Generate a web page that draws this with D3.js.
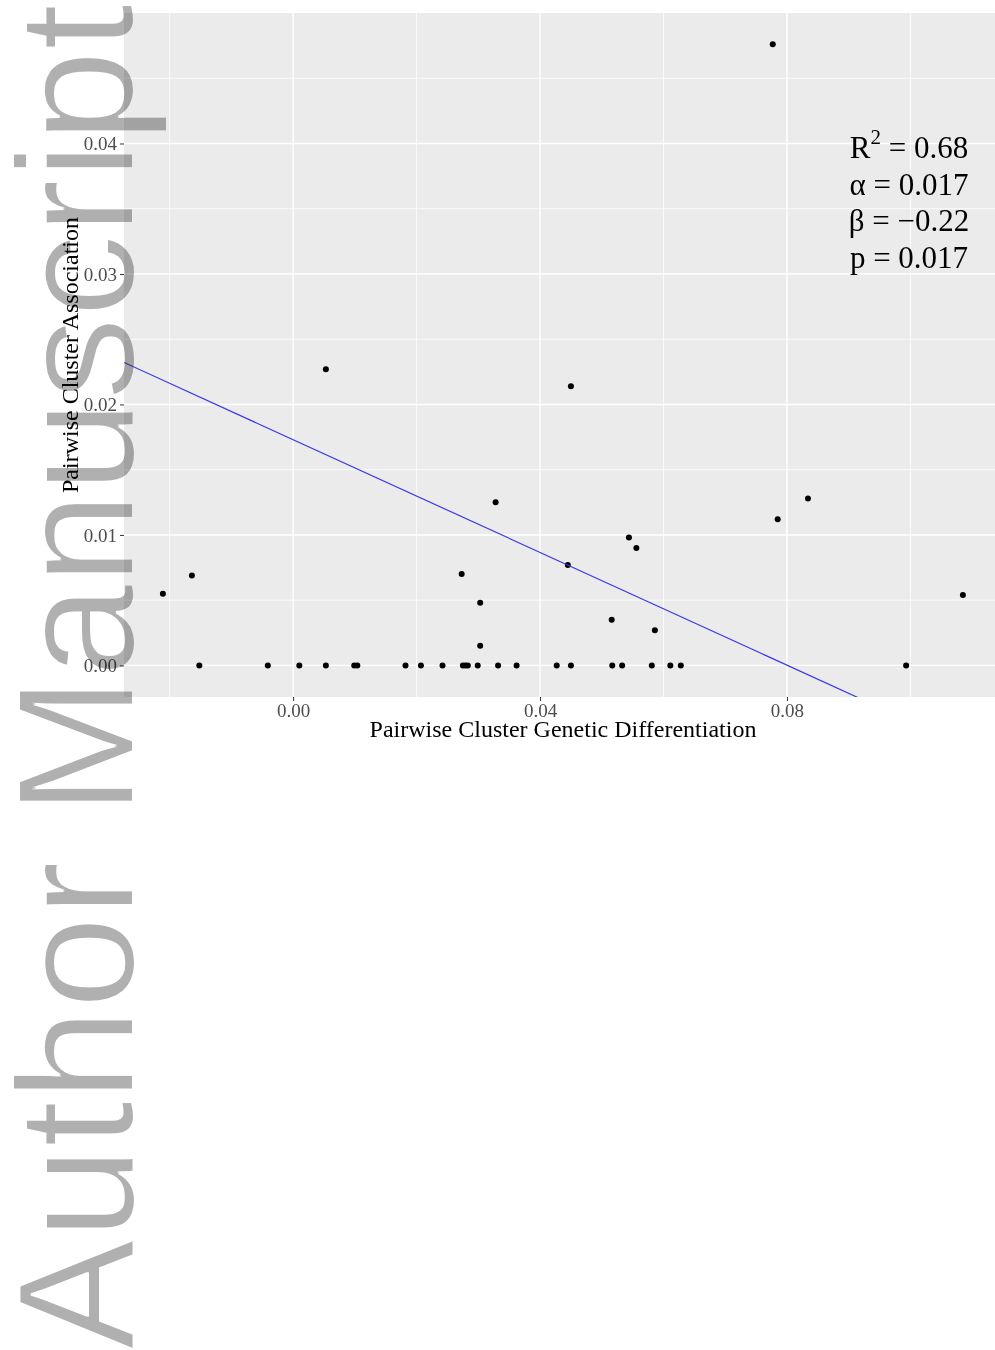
<!DOCTYPE html>
<html>
<head>
<meta charset="utf-8">
<script src="https://cdn.jsdelivr.net/npm/d3@7"></script>
<style>
  body { margin: 0; background: #fff; }
  svg { display: block; }
</style>
</head>
<body>
<div id="chart"></div>
<script>
// points: x = genetic differentiation, y = association
const xVals = [
  -0.0152, -0.0041, 0.0010, 0.0053, 0.0099, 0.0104, 0.0182, 0.0207, 0.0242,
  0.0275, 0.0279, 0.0283, 0.0299, 0.0332, 0.0362, 0.0427, 0.0450, 0.0517,
  0.0533, 0.0581, 0.0611, 0.0628, 0.0993,
  0.0777, 0.0053, 0.0450, 0.0328, 0.0834, 0.0785, 0.0544, 0.0556, 0.0445,
  -0.0164, -0.0211, 0.0273, 0.0303, 0.1085, 0.0516, 0.0586, 0.0303
];
const yVals = [
  0, 0, 0, 0, 0, 0, 0, 0, 0,
  0, 0, 0, 0, 0, 0, 0, 0, 0,
  0, 0, 0, 0, 0,
  0.0476, 0.0227, 0.0214, 0.0125, 0.0128, 0.0112, 0.0098, 0.0090, 0.0077,
  0.0069, 0.0055, 0.0070, 0.0048, 0.0054, 0.0035, 0.0027, 0.0015
];

const xMajor = [0, 0.04, 0.08];
const xMinor = [-0.02, 0.02, 0.06, 0.10];
const yMajor = [0, 0.01, 0.02, 0.03, 0.04];
const yMinor = [0.005, 0.015, 0.025, 0.035, 0.045];

// fitted line as drawn
const lineIntercept = 0.0173;
const lineSlope = -0.216;

const statLabels = ["R", "\u03b1 = 0.017", "\u03b2 = \u22120.22", "p = 0.017"];

const xTitle = "Pairwise Cluster Genetic Differentiation";
const yTitle = "Pairwise Cluster Association";
const watermark = "Author Manuscript";

const width = 995, height = 1350;
const panel = { left: 124, top: 13, right: 995, bottom: 697 };

const svg = d3.select("#chart").append("svg")
    .attr("width", width)
    .attr("height", height);

svg.append("rect")
    .attr("width", width).attr("height", height)
    .attr("fill", "#fff");

const defs = svg.append("defs");
defs.append("filter").attr("id", "thin")
    .attr("x", "-5%").attr("y", "-5%").attr("width", "110%").attr("height", "110%")
  .append("feMorphology")
    .attr("operator", "erode")
    .attr("radius", 1);

const x = d3.scaleLinear()
    .domain([-0.0274, 0.1137])
    .range([panel.left, panel.right]);

const y = d3.scaleLinear()
    .domain([-0.00242, 0.05])
    .range([panel.bottom, panel.top]);

// panel
svg.append("rect")
    .attr("x", panel.left).attr("y", panel.top)
    .attr("width", panel.right - panel.left)
    .attr("height", panel.bottom - panel.top)
    .attr("fill", "#ebebeb");

defs.append("clipPath").attr("id", "clip")
  .append("rect")
    .attr("x", panel.left).attr("y", panel.top)
    .attr("width", panel.right - panel.left)
    .attr("height", panel.bottom - panel.top);

const grid = svg.append("g");
grid.selectAll(".ymin").data(yMinor).enter().append("line")
    .attr("x1", panel.left).attr("x2", panel.right)
    .attr("y1", d => y(d)).attr("y2", d => y(d))
    .attr("stroke", "#fff").attr("stroke-width", 0.8);
grid.selectAll(".xmin").data(xMinor).enter().append("line")
    .attr("y1", panel.top).attr("y2", panel.bottom)
    .attr("x1", d => x(d)).attr("x2", d => x(d))
    .attr("stroke", "#fff").attr("stroke-width", 0.8);
grid.selectAll(".ymaj").data(yMajor).enter().append("line")
    .attr("x1", panel.left).attr("x2", panel.right)
    .attr("y1", d => y(d)).attr("y2", d => y(d))
    .attr("stroke", "#fff").attr("stroke-width", 1.4);
grid.selectAll(".xmaj").data(xMajor).enter().append("line")
    .attr("y1", panel.top).attr("y2", panel.bottom)
    .attr("x1", d => x(d)).attr("x2", d => x(d))
    .attr("stroke", "#fff").attr("stroke-width", 1.4);

const serif = "'Liberation Serif', 'Times New Roman', serif";

// axes
const xAxis = svg.append("g")
    .attr("transform", `translate(0,${panel.bottom})`)
    .call(d3.axisBottom(x).tickValues(xMajor).tickFormat(d3.format(".2f"))
      .tickSize(4).tickPadding(3));
const yAxis = svg.append("g")
    .attr("transform", `translate(${panel.left},0)`)
    .call(d3.axisLeft(y).tickValues(yMajor).tickFormat(d3.format(".2f"))
      .tickSize(4).tickPadding(3));

[xAxis, yAxis].forEach(a => {
  a.select(".domain").remove();
  a.selectAll(".tick line").attr("stroke", "#333").attr("stroke-width", 1);
  a.selectAll(".tick text")
    .attr("fill", "#4d4d4d")
    .style("font-family", serif)
    .style("font-size", "19px");
});

// points
const pts = xVals.map((d, i) => ({ x: d, y: yVals[i] }));
svg.append("g").selectAll("circle")
  .data(pts)
  .enter().append("circle")
    .attr("cx", d => x(d.x))
    .attr("cy", d => y(d.y))
    .attr("r", 3)
    .attr("fill", "#000");

// regression line
const xd = x.domain();
svg.append("line")
    .attr("clip-path", "url(#clip)")
    .attr("x1", x(xd[0])).attr("y1", y(lineIntercept + lineSlope * xd[0]))
    .attr("x2", x(xd[1])).attr("y2", y(lineIntercept + lineSlope * xd[1]))
    .attr("stroke", "#3a3ae6")
    .attr("stroke-width", 1.2);

// stats annotation
const stats = svg.append("text")
    .attr("x", 909)
    .attr("y", 158)
    .attr("text-anchor", "middle")
    .attr("fill", "#000")
    .style("font-family", serif)
    .style("font-size", "31px");
const first = stats.append("tspan").attr("x", 909).attr("y", 158);
first.append("tspan").text(statLabels[0]);
first.append("tspan").attr("dy", -14).style("font-size", "21px").text("2");
first.append("tspan").attr("dy", 14).text(" = 0.68");
statLabels.slice(1).forEach((t, i) => {
  stats.append("tspan").attr("x", 909).attr("y", 158 + (i + 1) * 36.6).text(t);
});

// axis titles
svg.append("text")
    .attr("x", 563).attr("y", 737)
    .attr("text-anchor", "middle")
    .style("font-family", serif)
    .style("font-size", "24px")
    .text(xTitle);

svg.append("text")
    .attr("transform", `translate(78,${(panel.top + panel.bottom) / 2}) rotate(-90)`)
    .attr("text-anchor", "middle")
    .style("font-family", serif)
    .style("font-size", "24px")
    .text(yTitle);

// watermark
svg.append("text")
    .attr("transform", "translate(133,1350) rotate(-90)")
    .attr("text-anchor", "start")
    .attr("fill", "#b0b0b0")
    .attr("textLength", 1346)
    .attr("lengthAdjust", "spacing")
    .attr("filter", "url(#thin)")
    .style("mix-blend-mode", "multiply")
    .style("font-family", "'Liberation Sans', Arial, sans-serif")
    .style("font-size", "166px")
    .text(watermark);
</script>
</body>
</html>
